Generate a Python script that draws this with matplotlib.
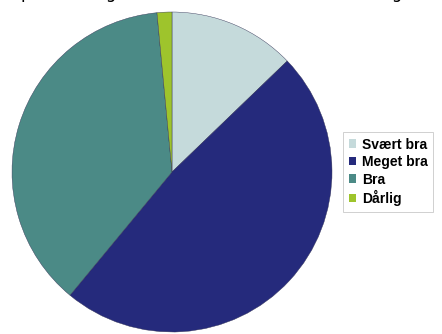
import matplotlib.pyplot as plt
from matplotlib.patches import Patch

labels = ["Svært bra", "Meget bra", "Bra", "Dårlig"]
values = [12.8, 48.2, 37.5, 1.5]
colors = ["#c5dadb", "#252a7c", "#4b8a86", "#9ec42c"]
title = "Oplevelsen generelt af kurset som helhed i dag"

fig = plt.figure(figsize=(4.42, 3.34), dpi=100)
ax = fig.add_axes([12/442, 2/334, 320/442, 320/334])

ax.pie(values, colors=colors, startangle=90, counterclock=False,
       wedgeprops=dict(edgecolor="#333355", linewidth=0.3))
ax.set_xlim(-1, 1)
ax.set_ylim(-1, 1)
ax.set_aspect("equal")

# title cut off at the top edge, only the descenders show
fig.text(8/442, 1 + 2/334, title, fontsize=12, va="baseline", ha="left")

handles = [Patch(facecolor=c, edgecolor="none") for c in colors]
leg = fig.legend(handles, labels, loc="upper left", bbox_to_anchor=(343/442, 1 - 132/334),
                 frameon=True, fancybox=False, handlelength=0.55,
                 handleheight=0.55, handletextpad=0.4, labelspacing=0.25,
                 borderpad=0.4, borderaxespad=0,
                 prop=dict(family="Liberation Sans", weight="bold", size=10))
leg.get_frame().set_edgecolor("#bbbbbb")
leg.get_frame().set_linewidth(0.6)

fig.savefig("out.png", dpi=100)
